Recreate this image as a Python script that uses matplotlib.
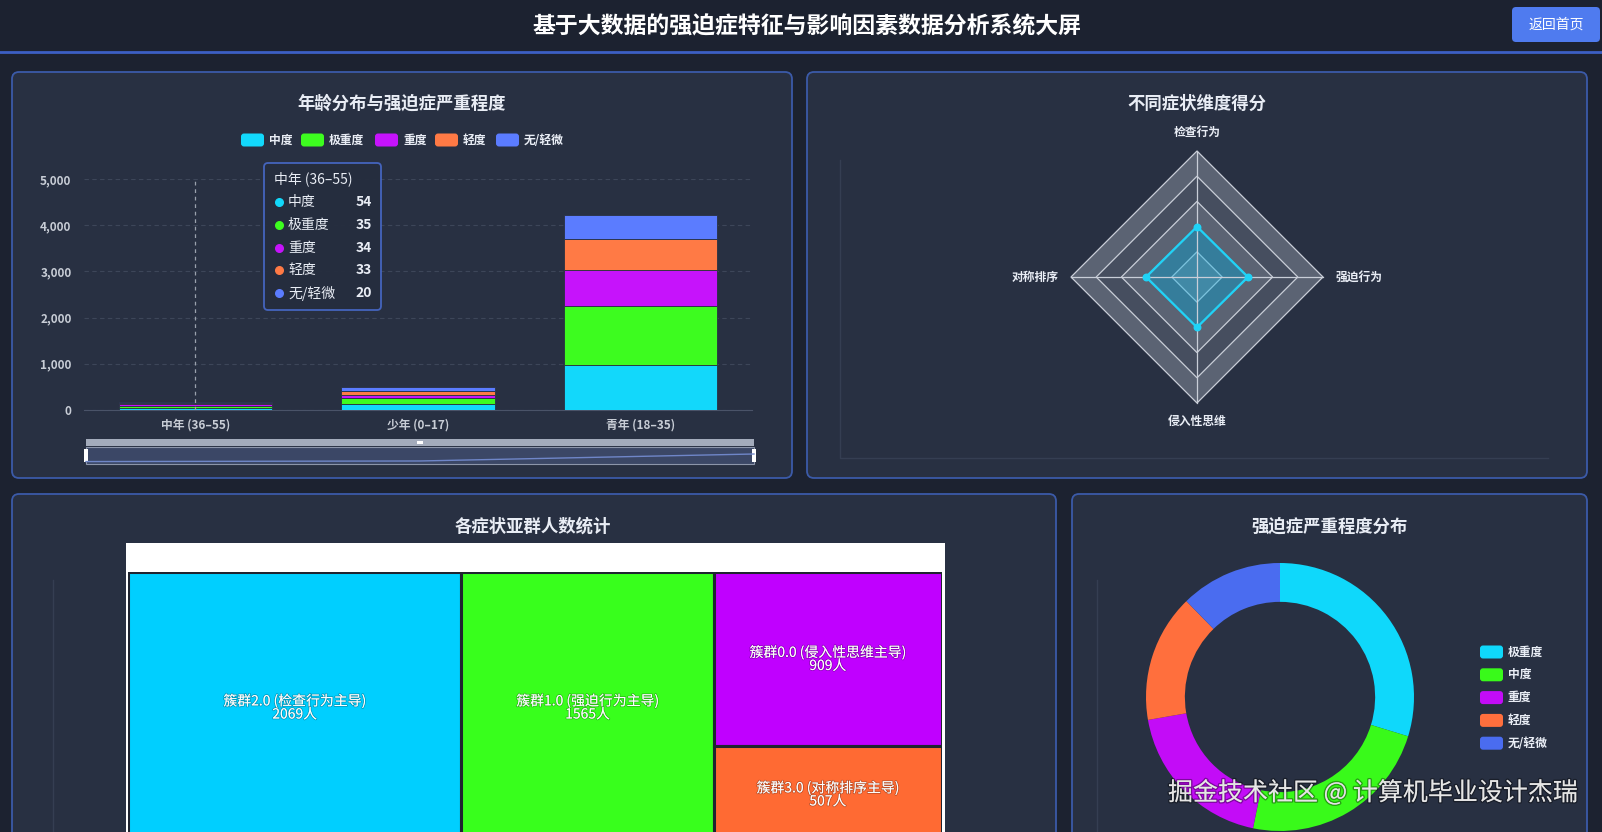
import matplotlib
matplotlib.use("Agg")
import matplotlib.pyplot as plt
import matplotlib.patheffects as pe
from matplotlib.patches import FancyBboxPatch, Rectangle, Polygon
import numpy as np

plt.rcParams['font.family'] = ['Noto Sans CJK SC', 'DejaVu Sans']

W, H = 1602, 832

# ---- data ----
age_groups = ['中年 (36–55)', '少年 (0–17)', '青年 (18–35)']
level_names = ['中度', '极重度', '重度', '轻度', '无/轻微']
level_colors = ['#12d8fb', '#3dfc1f', '#c613fb', '#ff7a45', '#5b7cff']
zhongdu = [54, 125, 980]
jizhongdu = [35, 130, 1270]
zhongdu2 = [34, 80, 780]
qingdu = [33, 75, 670]
wuqingwei = [20, 85, 520]

radar_dims = ['检查行为', '强迫行为', '侵入性思维', '对称排序']
radar_scores = [4.0, 4.05, 4.0, 4.05]
radar_max = 10

clusters = ['簇群2.0 (检查行为主导)', '簇群1.0 (强迫行为主导)',
            '簇群0.0 (侵入性思维主导)', '簇群3.0 (对称排序主导)']
cluster_counts = [2069, 1565, 909, 507]
cluster_colors = ['#00cfff', '#38ff1c', '#c000ff', '#ff6a33']

sev_names = ['极重度', '中度', '重度', '轻度', '无/轻微']
sev_values = [1500, 1185, 960, 778, 621]
sev_colors = ['#0fd8fb', '#39fa1a', '#c30cf7', '#ff6f3d', '#4a6cf0']

FIG_BG = '#1c2230'
PANEL_BG = '#283042'
PANEL_EDGE = '#3b5aa8'
TXT = '#e9edf5'
TICK = '#c8cdd6'


def px_axes(x0, y0, x1, y1):
    return fig.add_axes([x0 / W, 1 - y1 / H, (x1 - x0) / W, (y1 - y0) / H])


fig = plt.figure(figsize=(W / 100, H / 100), dpi=100, facecolor=FIG_BG)

bg = fig.add_axes([0, 0, 1, 1])
bg.set_xlim(0, W)
bg.set_ylim(H, 0)
bg.axis('off')

# header
bg.plot([0, W], [52, 52], color='#3c5fc4', lw=2)
bg.text(807, 27, '基于大数据的强迫症特征与影响因素数据分析系统大屏', color='white',
        fontsize=16.5, fontweight='bold', ha='center', va='center')
bg.add_patch(FancyBboxPatch((1512, 7), 88, 35, boxstyle='round,pad=0,rounding_size=4',
                            fc='#4f7bef', ec='none'))
bg.text(1556, 24.5, '返回首页', color='white', fontsize=10, ha='center', va='center')

# panels
for (x0, y0, x1, y1) in [(12, 72, 792, 478), (807, 72, 1587, 478),
                         (12, 494, 1056, 850), (1072, 494, 1587, 850)]:
    bg.add_patch(FancyBboxPatch((x0, y0), x1 - x0, y1 - y0,
                                boxstyle='round,pad=0,rounding_size=7',
                                fc=PANEL_BG, ec=PANEL_EDGE, lw=1.3))

title_kw = dict(color=TXT, fontsize=12.5, fontweight='bold', ha='center', va='center')
bg.text(402, 104, '年龄分布与强迫症严重程度', **title_kw)
bg.text(1197, 104, '不同症状维度得分', **title_kw)
bg.text(533, 527, '各症状亚群人数统计', **title_kw)
bg.text(1330, 527, '强迫症严重程度分布', **title_kw)

# faint grid frames
bg.plot([840, 840, 1548], [160, 458, 458], color='#353e52', lw=1)
bg.plot([53, 53], [580, 832], color='#353e52', lw=1)
bg.plot([1097, 1097], [580, 832], color='#353e52', lw=1)

# bar legend
lx = [241, 301, 375, 435, 496]
for x, name, c in zip(lx, level_names, level_colors):
    bg.add_patch(FancyBboxPatch((x, 133.5), 23, 13, boxstyle='round,pad=0,rounding_size=3',
                                fc=c, ec='none'))
    bg.text(x + 28, 140, name, color=TXT, fontsize=8.5, fontweight='bold',
            va='center', ha='left')

# ---- stacked bar chart ----
ax = px_axes(84, 179, 752, 410)
ax.set_facecolor('none')
series = [zhongdu, jizhongdu, zhongdu2, qingdu, wuqingwei]
xpos = np.arange(len(age_groups))
bottom = np.zeros(len(age_groups))
for vals, c in zip(series, level_colors):
    ax.bar(xpos, vals, bottom=bottom, width=0.69, color=c, edgecolor=PANEL_BG, lw=0.6, zorder=3)
    bottom += np.array(vals)
ax.set_xlim(-0.5, 2.5)
ax.set_ylim(0, 5000)
ax.set_yticks(range(0, 5001, 1000))
ax.set_yticklabels([f'{v:,}' for v in range(0, 5001, 1000)], fontweight='bold')
ax.set_xticks(xpos)
ax.set_xticklabels(age_groups, fontweight='bold')
ax.tick_params(colors=TICK, labelsize=8.5, length=0)
ax.tick_params(axis='x', pad=6)
ax.tick_params(axis='y', pad=9)
ax.grid(axis='y', color='#3d4659', ls=(0, (4, 3)), lw=0.8, zorder=0)
for s in ['top', 'right', 'left']:
    ax.spines[s].set_visible(False)
ax.spines['bottom'].set_color('#4a5368')
ax.axvline(0, color='#9aa1ad', ls=(0, (3, 3)), lw=0.9, zorder=4)

# data zoom slider
bg.add_patch(Rectangle((86, 439), 668, 7, fc='#a3abbb', ec='none'))
bg.add_patch(Rectangle((86, 447), 668, 17, fc='#3b4766', ec='#8c95aa', lw=0.8))
sx = np.linspace(86, 754, len(age_groups))
sy = 462 - np.array(zhongdu) / max(zhongdu) * 8
bg.plot(sx, sy, color='#6f86c8', lw=1)
for hx in [86, 754]:
    bg.add_patch(Rectangle((hx - 2, 449), 4, 13, fc='white', ec='none'))
bg.add_patch(Rectangle((417, 441), 6, 3, fc='white', ec='none'))

# ---- radar ----
rax = px_axes(1017, 97, 1377, 457)
rax.set_facecolor('none')
rax.set_xlim(-180 / 126, 180 / 126)
rax.set_ylim(-180 / 126, 180 / 126)
rax.axis('off')
ang = np.deg2rad(90 - 90 * np.arange(len(radar_dims)))
ring_cols = ['#5b6373', '#464e5f']
for k in range(5, 0, -1):
    r = k / 5
    pts = np.column_stack([r * np.cos(ang), r * np.sin(ang)])
    rax.add_patch(Polygon(pts, closed=True, fc=ring_cols[(5 - k) % 2], ec='#c9ced8', lw=0.9))
for a in ang:
    rax.plot([0, np.cos(a)], [0, np.sin(a)], color='#c9ced8', lw=0.9)
rv = np.array(radar_scores) / radar_max
dpts = np.column_stack([rv * np.cos(ang), rv * np.sin(ang)])
rax.add_patch(Polygon(dpts, closed=True, fc='#22b8e6', alpha=0.45, ec='none'))
rax.add_patch(Polygon(dpts, closed=True, fill=False, ec='#1fd3f7', lw=1.6))
rax.scatter(dpts[:, 0], dpts[:, 1], s=22, color='#1fd3f7', zorder=5)
for a, name in zip(ang, radar_dims):
    c, s = np.cos(a), np.sin(a)
    ha = 'center' if abs(c) < 0.1 else ('left' if c > 0 else 'right')
    rr = 1.15 if abs(c) < 0.1 else 1.1
    rax.text(rr * c, rr * s, name, color=TXT, fontsize=8.5, fontweight='bold',
             ha=ha, va='center')

# ---- treemap ----
bg.add_patch(Rectangle((126, 543), 819, 300, fc='white', ec='none'))
tax = px_axes(128, 572, 942, 843)
tax.set_facecolor('none')
tax.set_xlim(0, 1)
tax.set_ylim(1, 0)
tax.axis('off')
total = sum(cluster_counts)
rects = []
x = 0
for v in cluster_counts[:2]:
    w = v / total
    rects.append((x, 0, w, 1))
    x += w
rest = sum(cluster_counts[2:])
w = rest / total
y = 0
for v in cluster_counts[2:]:
    h = v / rest
    rects.append((x, y, w, h))
    y += h
for (rx, ry, rw, rh), name, v, c in zip(rects, clusters, cluster_counts, cluster_colors):
    tax.add_patch(Rectangle((rx, ry), rw, rh, fc=c, ec='#1f2430', lw=2.2))
    tax.text(rx + rw / 2, ry + rh / 2, f'{name}\n{v}人', color='white', fontsize=10,
             ha='center', va='center', linespacing=0.92,
             path_effects=[pe.withStroke(linewidth=1.2, foreground=(0, 0, 0, 0.25))])

# ---- donut ----
dax = px_axes(1140, 557, 1420, 837)
dax.set_facecolor('none')
dax.pie(sev_values, colors=sev_colors, startangle=90, counterclock=False, radius=1,
        wedgeprops=dict(width=0.29, edgecolor='none'))
dax.set_xlim(-140 / 134, 140 / 134)
dax.set_ylim(-140 / 134, 140 / 134)
dax.set_aspect('equal')

top = fig.add_axes([0, 0, 1, 1])
top.set_xlim(0, W)
top.set_ylim(H, 0)
top.axis('off')

for i, (name, c) in enumerate(zip(sev_names, sev_colors)):
    yy = 652 + i * 22.8
    top.add_patch(FancyBboxPatch((1480, yy - 6.5), 23, 13, boxstyle='round,pad=0,rounding_size=3',
                                 fc=c, ec='none'))
    top.text(1508, yy, name, color=TXT, fontsize=8.5, fontweight='bold',
             va='center', ha='left')

# tooltip
top.add_patch(FancyBboxPatch((264, 163), 117, 147, boxstyle='round,pad=0,rounding_size=4',
                             fc='#252d3e', ec='#4667c4', lw=1.3, alpha=0.95))
top.text(274, 179, age_groups[0], color=TXT, fontsize=10, va='center', ha='left')
for i, (name, vals, c) in enumerate(zip(level_names, series, level_colors)):
    yy = 202 + i * 22.8
    top.scatter([279], [yy], s=30, color=c, zorder=5)
    top.text(288, yy, name, color=TXT, fontsize=10, va='center', ha='left')
    top.text(372, yy, str(vals[0]), color=TXT, fontsize=10, fontweight='bold',
             va='center', ha='right')

# watermark
top.text(1168, 793, '掘金技术社区 @ 计算机毕业设计杰瑞', color='#e6e6e6', fontsize=18,
         va='center', ha='left',
         path_effects=[pe.withStroke(linewidth=2, foreground=(0, 0, 0, 0.35))])

fig.savefig('out.png', dpi=100, facecolor=FIG_BG)
